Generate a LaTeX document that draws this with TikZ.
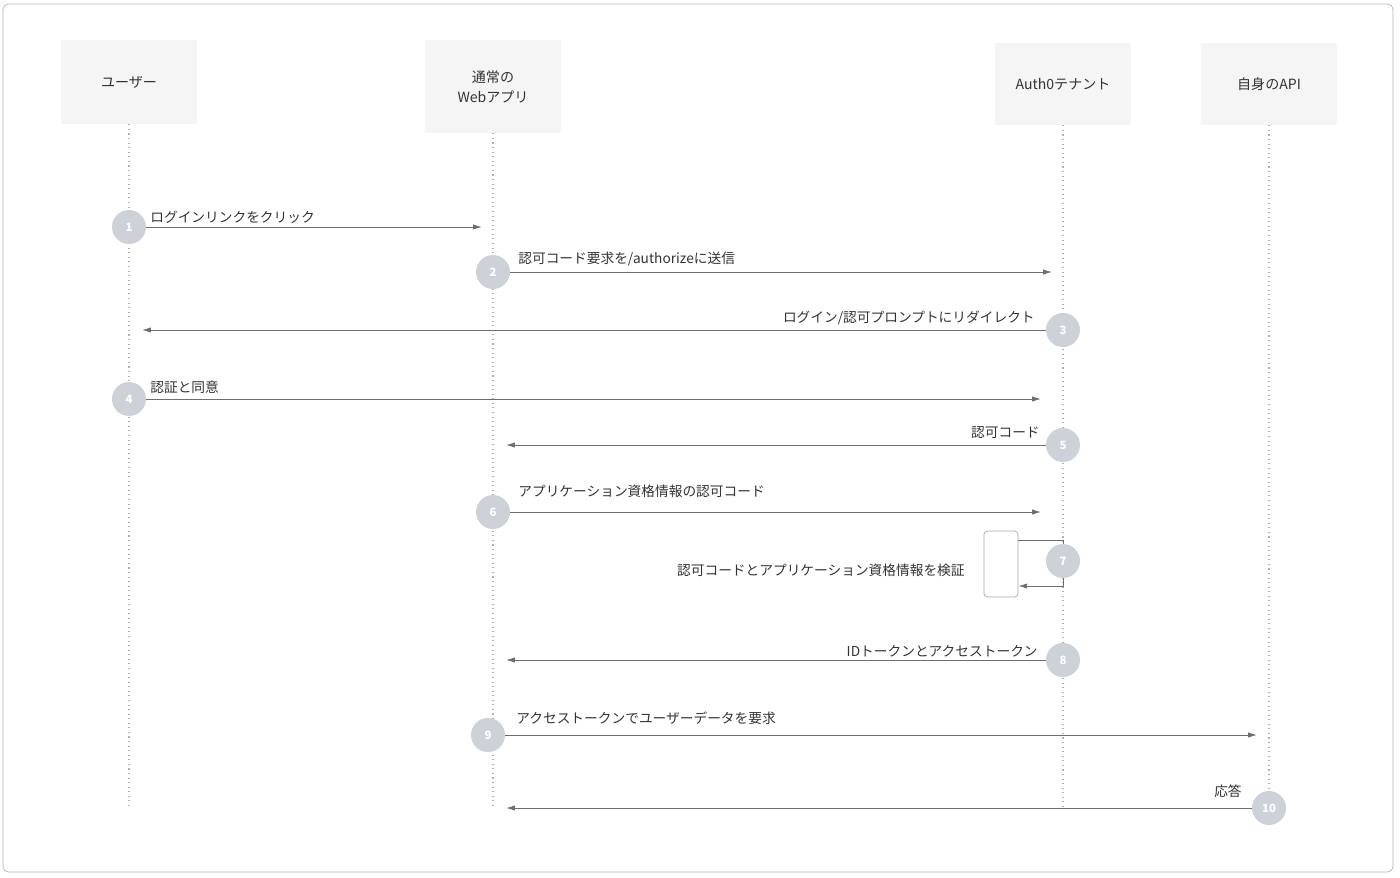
\documentclass[tikz,border=0pt]{standalone}
\usepackage{fontspec}
\setmainfont{Noto Sans CJK JP}
\usetikzlibrary{arrows.meta,positioning,calc}
\definecolor{headfill}{HTML}{F5F5F5}
\definecolor{stepgray}{HTML}{CDD1D8}
\definecolor{linegray}{HTML}{6E6E6E}
\definecolor{txt}{HTML}{333333}
\tikzset{
  head/.style={fill=headfill, minimum width=2.72cm, align=center, font=\fontsize{8}{11.5}\selectfont, text=txt, inner sep=0pt},
  stepnum/.style={circle, fill=stepgray, minimum size=0.68cm, inner sep=0pt, font=\fontsize{6.5}{8}\selectfont\bfseries, text=white},
  msg/.style={draw=linegray, line width=0.5pt, -{Latex[length=5pt,width=3pt]}},
  lbl/.style={font=\fontsize{7.8}{10}\selectfont, text=txt, inner sep=0pt},
  life/.style={draw=gray!60, dotted, line width=0.6pt}
}
\begin{document}
\begin{tikzpicture}[x=0.02cm, y=-0.02cm]

\draw[gray!60, rounded corners=3pt] (3,4) rectangle (1393,872);
\useasboundingbox (0,0) rectangle (1400,877);

\node (user) [head, minimum height=1.68cm] at (129,82) {ユーザー};
\node (webapp) [head, minimum height=1.86cm] at (493,86.5) {通常の\\Webアプリ};
\node (tenant) [head, minimum height=1.64cm] at (1063,84) {Auth0テナント};
\node (api) [head, minimum height=1.64cm] at (1269,84) {自身のAPI};

\coordinate (userend) at (129,808);
\coordinate (webend) at (493,808);
\coordinate (tenantend) at (1063,808);
\coordinate (apiend) at (1269,808);
\draw[life] (user) -- (userend);
\draw[life] (webapp) -- (webend);
\draw[life] (tenant) -- (tenantend);
\draw[life] (api) -- (apiend);

% messages
\node (c1) [stepnum] at (129,227) {1};
\coordinate (e1) at (482,227);
\draw[msg] (c1) -- (e1);
\node [lbl, anchor=west] at (150,217) {ログインリンクをクリック};

\node (c2) [stepnum] at (493,272) {2};
\coordinate (e2) at (1052,272);
\draw[msg] (c2) -- (e2);
\node [lbl, anchor=west] at (518,259) {認可コード要求を/authorizeに送信};

\node (c3) [stepnum] at (1063,330) {3};
\coordinate (e3) at (142,330);
\draw[msg] (c3) -- (e3);
\node [lbl, anchor=east] at (1035,318) {ログイン/認可プロンプトにリダイレクト};

\node (c4) [stepnum] at (129,399) {4};
\coordinate (e4) at (1041,399);
\draw[msg] (c4) -- (e4);
\node [lbl, anchor=west] at (150,387) {認証と同意};

\node (c5) [stepnum] at (1063,445) {5};
\coordinate (e5) at (506,445);
\draw[msg] (c5) -- (e5);
\node [lbl, anchor=east] at (1040,433) {認可コード};

\node (c6) [stepnum] at (493,512) {6};
\coordinate (e6) at (1041,512);
\draw[msg] (c6) -- (e6);
\node [lbl, anchor=west] at (518,491) {アプリケーション資格情報の認可コード};

\node (act) [draw=gray!70, rounded corners=2pt, minimum width=0.68cm, minimum height=1.32cm, inner sep=0pt] at (1001,564) {};
\node (c7) [stepnum] at (1063,561) {7};
\draw[draw=linegray, line width=0.5pt] (act.east |- 0,540) -- (1063,540) -- (c7.north);
\draw[msg] (c7.south) -- (1063,586) -- (act.east |- 0,586);
\node [lbl, anchor=east] at (965,570) {認可コードとアプリケーション資格情報を検証};

\node (c8) [stepnum] at (1063,660) {8};
\coordinate (e8) at (506,660);
\draw[msg] (c8) -- (e8);
\node [lbl, anchor=east] at (1038,651) {IDトークンとアクセストークン};

\node (c9) [stepnum] at (488,735) {9};
\coordinate (e9) at (1257,735);
\draw[msg] (c9) -- (e9);
\node [lbl, anchor=west] at (516,718) {アクセストークンでユーザーデータを要求};

\node (c10) [stepnum] at (1269,808) {10};
\coordinate (e10) at (506,808);
\draw[msg] (c10) -- (e10);
\node [lbl, anchor=east] at (1242,791) {応答};

\end{tikzpicture}
\end{document}
